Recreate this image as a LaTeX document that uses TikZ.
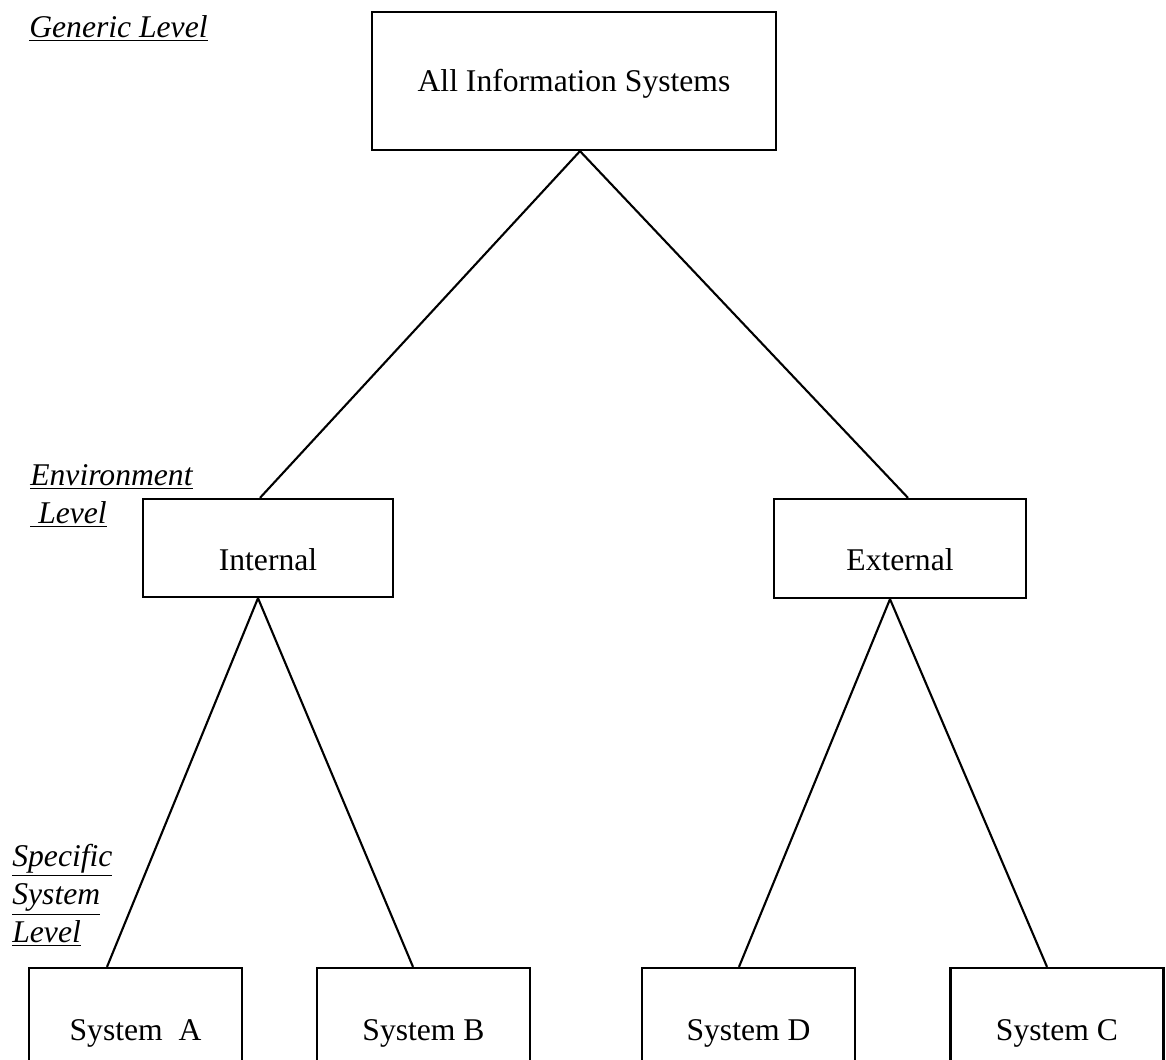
\documentclass[tikz,border=0pt]{standalone}
\usepackage{fontspec}
\setmainfont{Liberation Serif}

\tikzset{
  sysbox/.style={draw, line width=1.3pt, inner sep=0pt, text depth=0pt, text height=0.44cm, minimum width=4.26cm, minimum height=2.44cm},
  levellabel/.style={anchor=north west, inner sep=0pt, align=left, font=\fontsize{18}{21.6}\selectfont\itshape},
  branch/.style={line width=1.2pt}
}

\begin{document}
\begin{tikzpicture}[x=0.02cm, y=-0.02cm, font=\fontsize{18}{21.6}\selectfont]
		%%%%% START %%%%%
		\useasboundingbox (0, 0) rectangle (1166, 1060);
		\clip (0, 0) rectangle (1166, 1060);

		\node[levellabel] (generic) at (29, 15) {\underline{Generic Level}};
		\node[sysbox, minimum width=8.08cm, minimum height=2.76cm] (all) at (574, 81) {All Information Systems};

		\node[levellabel] (envlevel) at (30, 464) {\underline{Environment}\\\underline{\ Level}};
		\node[sysbox, minimum width=5cm, minimum height=1.96cm, text height=0.9cm] (internal) at (268, 548) {Internal};
		\node[sysbox, minimum width=5.04cm, minimum height=1.98cm, text height=0.9cm] (external) at (900, 548.5) {External};

		\node[levellabel] (speclevel) at (12, 844) {\underline{Specific}\\\underline{System}\\\underline{Level}};
		\node[sysbox] (sysA) at (135.5, 1029) {System\ \ A};
		\node[sysbox] (sysB) at (423.5, 1029) {System B};
		\node[sysbox] (sysD) at (748.5, 1029) {System D};
		\node[sysbox] (sysC) at (1057, 1029) {System C};

		\draw[branch] ([xshift=0.12cm]all.south) -- ([xshift=-0.16cm]internal.north);
		\draw[branch] ([xshift=0.12cm]all.south) -- ([xshift=0.16cm]external.north);

		\draw[branch] ([xshift=-0.2cm]internal.south) -- ([xshift=-0.57cm]sysA.north);
		\draw[branch] ([xshift=-0.2cm]internal.south) -- ([xshift=-0.21cm]sysB.north);
		\draw[branch] ([xshift=-0.2cm]external.south) -- ([xshift=-0.19cm]sysD.north);
		\draw[branch] ([xshift=-0.2cm]external.south) -- ([xshift=-0.2cm]sysC.north);
		%%%%% END %%%%%
\end{tikzpicture}
\end{document}
